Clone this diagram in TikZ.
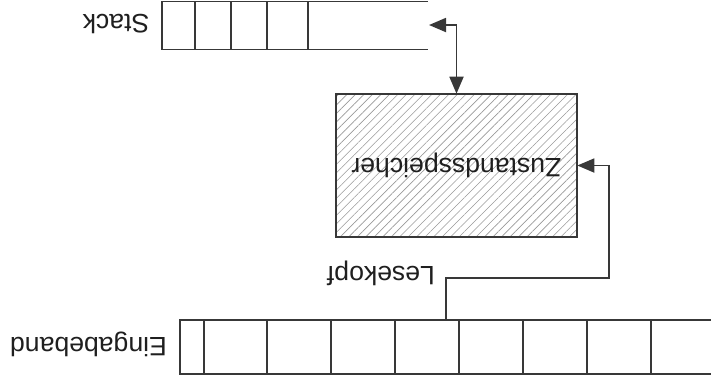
\documentclass[tikz,border=0pt]{standalone}
\usepackage{fontspec}
\setmainfont{Liberation Sans}
\usetikzlibrary{arrows.meta,patterns.meta}
\begin{document}
\begin{tikzpicture}[x=0.5pt,y=-0.5pt,
  line/.style={draw=black!78,line width=0.9pt},
  txt/.style={rotate=180,anchor=base,inner sep=0pt,
    font=\fontsize{13.3}{16}\selectfont,text=black!88},
  tip/.style={-{Triangle[length=8.5pt,width=7pt]}},
  tips/.style={{Triangle[length=8.5pt,width=7pt]}-{Triangle[length=8.5pt,width=7pt]}},
  hatched/.style={line,pattern={Lines[angle=45,distance=3pt,line width=0.3pt]},
    pattern color=black!40}]
\useasboundingbox (0,0) rectangle (711,382);

% stack: open towards the right
\draw[line] (428,1.5) -- (162,1.5) -- (162,49.5) -- (428,49.5);
\foreach \x in {195,231,267,308} \draw[line] (\x,1.5) -- (\x,49.5);
\coordinate (stacktop) at (429,25);
\node[txt] (stacklabel) at (116,14) {Stack};

% control unit
\node[hatched,minimum width=120.5pt,minimum height=71.5pt,inner sep=0pt,
  font=\fontsize{13.3}{16}\selectfont,text=black!88] (zsp) at (456.5,165.5)
  {\rotatebox{180}{Zustandsspeicher}};

% input tape
\draw[line] (711,320) -- (180,320) -- (180,374) -- (711,374);
\foreach \x in {204,267,331,395,459,523,587,651} \draw[line] (\x,320) -- (\x,374);
\node[txt] (tapelabel) at (88.5,337) {Eingabeband};

% read head
\coordinate (head) at (446,320);
\coordinate (bend) at (609,278);
\node[txt] (headlabel) at (381,266) {Lesekopf};

% connectors
\draw[line,tips] (stacktop) -| (zsp.north);
\draw[line,tip] (head) |- (bend) |- (zsp.east);
\end{tikzpicture}
\end{document}
